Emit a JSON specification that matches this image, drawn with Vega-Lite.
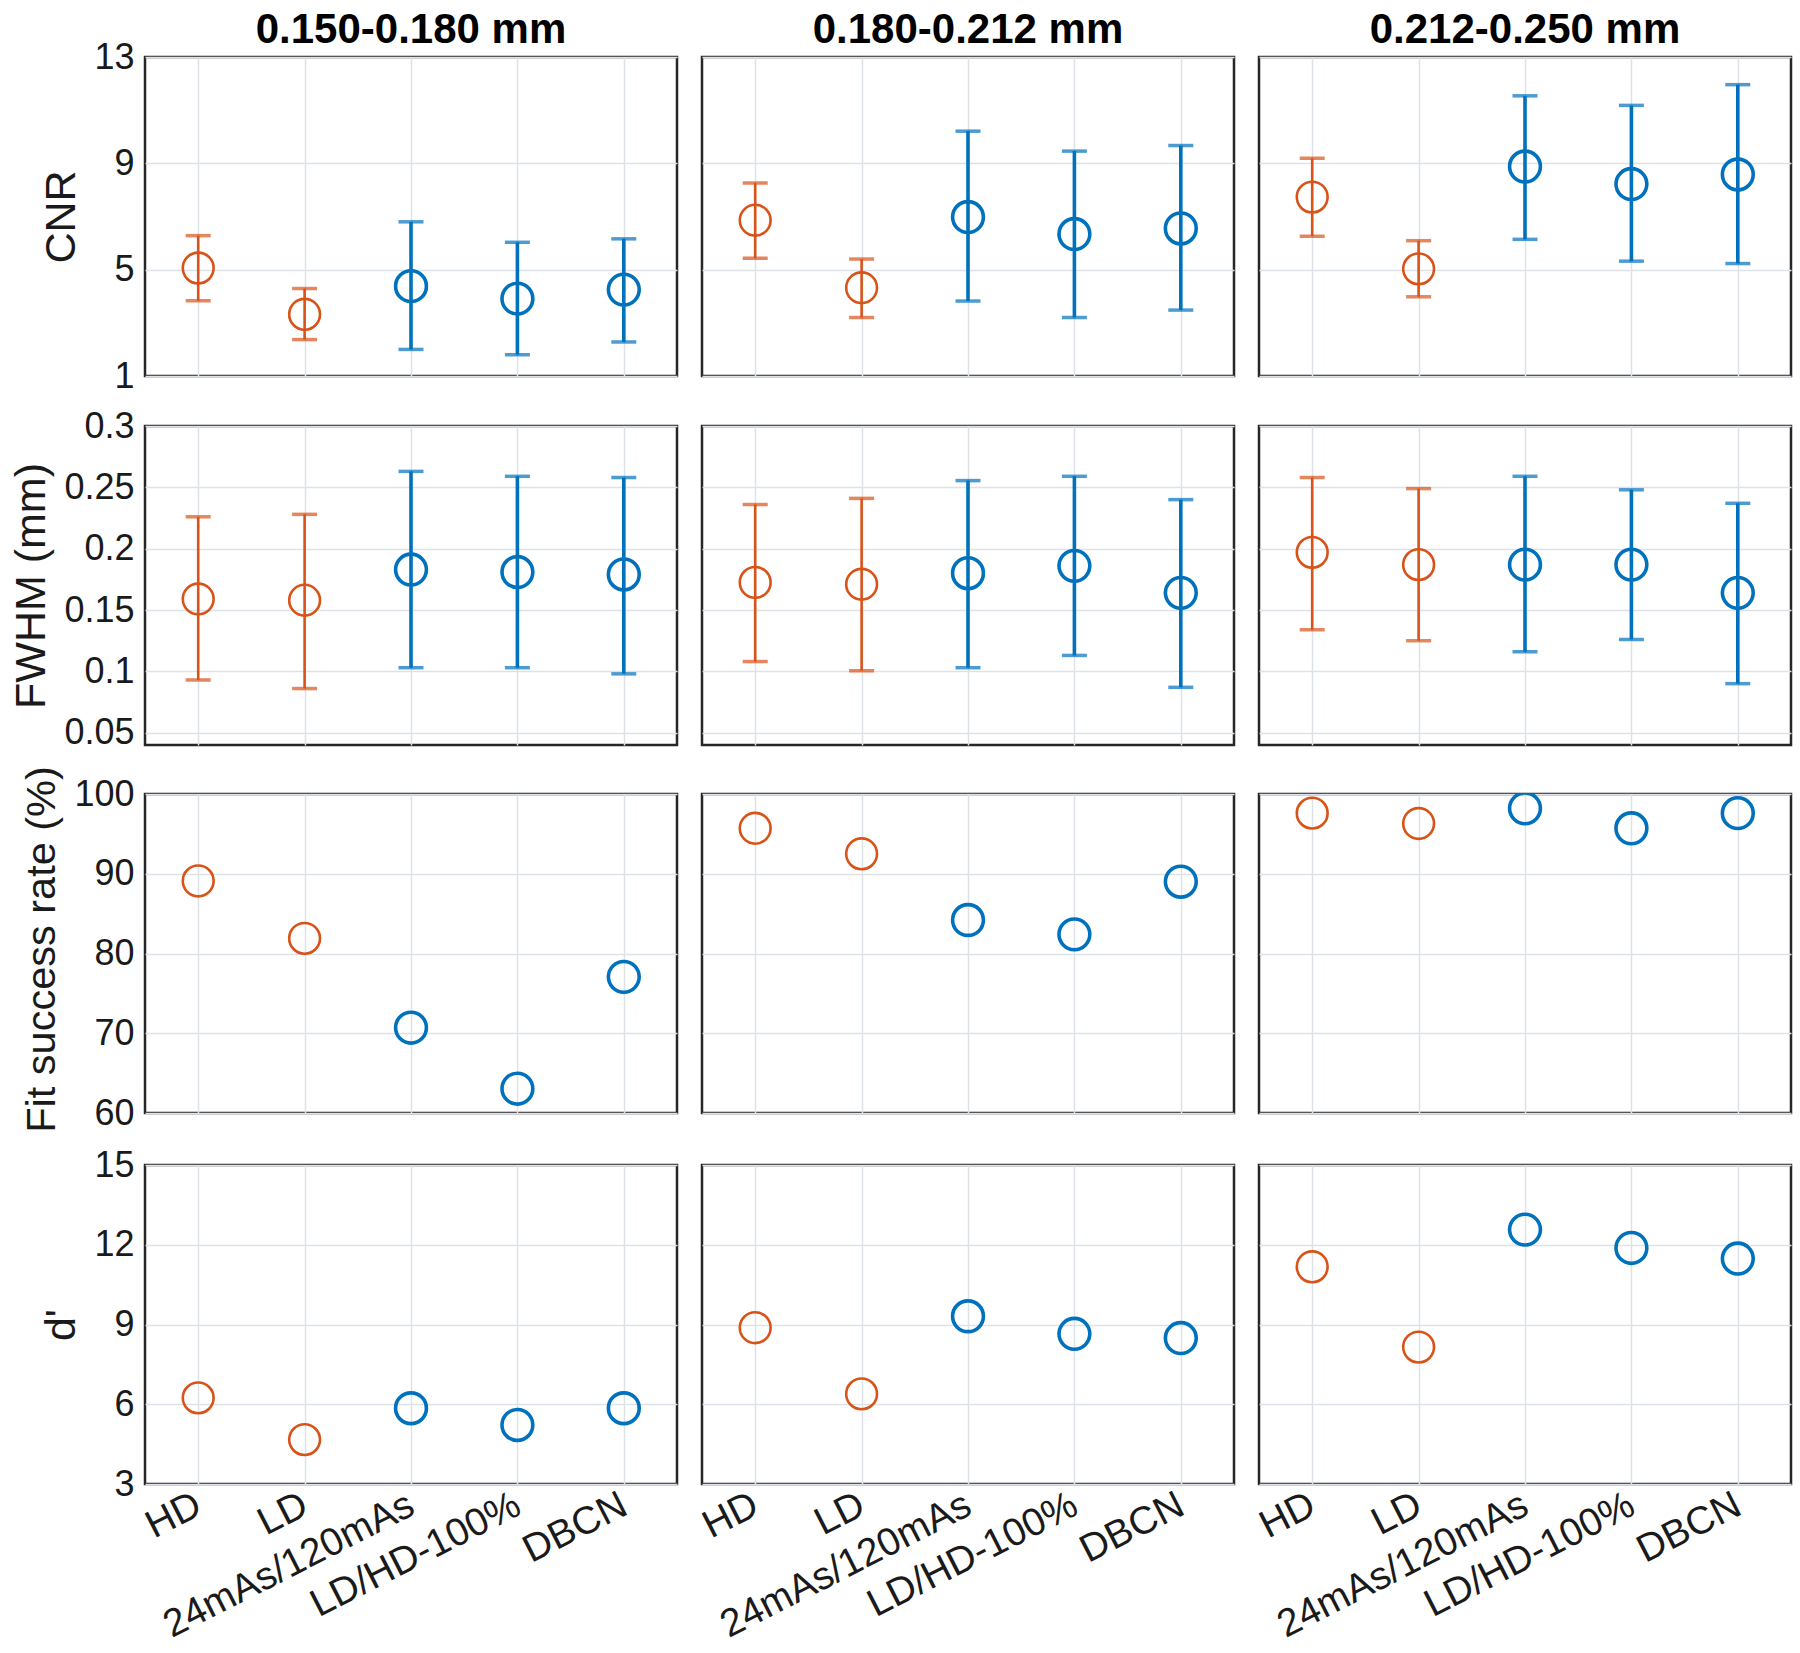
{
  "$schema": "https://vega.github.io/schema/vega-lite/v6.json",
  "background": "white",
  "padding": {"left": 10, "top": 9, "right": 4, "bottom": 2},
  "spacing": 14,
  "config": {
    "font": "Liberation Sans",
    "view": {"stroke": "#262626", "strokeWidth": 2.5},
    "axis": {
      "domain": false, "ticks": false, "grid": true,
      "gridColor": "#dde2e8", "gridWidth": 1.5,
      "labelColor": "#1a1a1a", "titleColor": "#1a1a1a",
      "titleFontWeight": "normal", "labelLimit": 0
    },
    "axisX": {"minExtent": 0},
    "axisY": {"labelFontSize": 36, "titleFontSize": 43, "labelPadding": 9, "titlePadding": 10},
    "header": {"labelColor": "#000000"}
  },
  "datasets": {
    "d": [
      {"metric": "CNR", "size": "0.150-0.180 mm", "method": "HD", "grp": "conv", "v": 5.06, "lo": 3.83, "hi": 6.28},
      {"metric": "CNR", "size": "0.150-0.180 mm", "method": "LD", "grp": "conv", "v": 3.32, "lo": 2.37, "hi": 4.29},
      {"metric": "CNR", "size": "0.150-0.180 mm", "method": "24mAs/120mAs", "grp": "dl", "v": 4.38, "lo": 2.0, "hi": 6.8},
      {"metric": "CNR", "size": "0.150-0.180 mm", "method": "LD/HD-100%", "grp": "dl", "v": 3.91, "lo": 1.8, "hi": 6.03},
      {"metric": "CNR", "size": "0.150-0.180 mm", "method": "DBCN", "grp": "dl", "v": 4.25, "lo": 2.28, "hi": 6.16},
      {"metric": "CNR", "size": "0.180-0.212 mm", "method": "HD", "grp": "conv", "v": 6.86, "lo": 5.43, "hi": 8.26},
      {"metric": "CNR", "size": "0.180-0.212 mm", "method": "LD", "grp": "conv", "v": 4.32, "lo": 3.2, "hi": 5.4},
      {"metric": "CNR", "size": "0.180-0.212 mm", "method": "24mAs/120mAs", "grp": "dl", "v": 6.98, "lo": 3.82, "hi": 10.21},
      {"metric": "CNR", "size": "0.180-0.212 mm", "method": "LD/HD-100%", "grp": "dl", "v": 6.34, "lo": 3.2, "hi": 9.46},
      {"metric": "CNR", "size": "0.180-0.212 mm", "method": "DBCN", "grp": "dl", "v": 6.55, "lo": 3.48, "hi": 9.67},
      {"metric": "CNR", "size": "0.212-0.250 mm", "method": "HD", "grp": "conv", "v": 7.73, "lo": 6.26, "hi": 9.19},
      {"metric": "CNR", "size": "0.212-0.250 mm", "method": "LD", "grp": "conv", "v": 5.03, "lo": 3.98, "hi": 6.09},
      {"metric": "CNR", "size": "0.212-0.250 mm", "method": "24mAs/120mAs", "grp": "dl", "v": 8.88, "lo": 6.14, "hi": 11.54},
      {"metric": "CNR", "size": "0.212-0.250 mm", "method": "LD/HD-100%", "grp": "dl", "v": 8.22, "lo": 5.32, "hi": 11.18},
      {"metric": "CNR", "size": "0.212-0.250 mm", "method": "DBCN", "grp": "dl", "v": 8.58, "lo": 5.23, "hi": 11.96},

      {"metric": "FWHM", "size": "0.150-0.180 mm", "method": "HD", "grp": "conv", "v": 0.159, "lo": 0.093, "hi": 0.226},
      {"metric": "FWHM", "size": "0.150-0.180 mm", "method": "LD", "grp": "conv", "v": 0.158, "lo": 0.086, "hi": 0.228},
      {"metric": "FWHM", "size": "0.150-0.180 mm", "method": "24mAs/120mAs", "grp": "dl", "v": 0.183, "lo": 0.103, "hi": 0.263},
      {"metric": "FWHM", "size": "0.150-0.180 mm", "method": "LD/HD-100%", "grp": "dl", "v": 0.181, "lo": 0.103, "hi": 0.259},
      {"metric": "FWHM", "size": "0.150-0.180 mm", "method": "DBCN", "grp": "dl", "v": 0.179, "lo": 0.098, "hi": 0.258},
      {"metric": "FWHM", "size": "0.180-0.212 mm", "method": "HD", "grp": "conv", "v": 0.1725, "lo": 0.108, "hi": 0.236},
      {"metric": "FWHM", "size": "0.180-0.212 mm", "method": "LD", "grp": "conv", "v": 0.171, "lo": 0.1005, "hi": 0.241},
      {"metric": "FWHM", "size": "0.180-0.212 mm", "method": "24mAs/120mAs", "grp": "dl", "v": 0.18, "lo": 0.103, "hi": 0.2555},
      {"metric": "FWHM", "size": "0.180-0.212 mm", "method": "LD/HD-100%", "grp": "dl", "v": 0.186, "lo": 0.113, "hi": 0.259},
      {"metric": "FWHM", "size": "0.180-0.212 mm", "method": "DBCN", "grp": "dl", "v": 0.164, "lo": 0.087, "hi": 0.24},
      {"metric": "FWHM", "size": "0.212-0.250 mm", "method": "HD", "grp": "conv", "v": 0.197, "lo": 0.134, "hi": 0.258},
      {"metric": "FWHM", "size": "0.212-0.250 mm", "method": "LD", "grp": "conv", "v": 0.187, "lo": 0.125, "hi": 0.249},
      {"metric": "FWHM", "size": "0.212-0.250 mm", "method": "24mAs/120mAs", "grp": "dl", "v": 0.187, "lo": 0.116, "hi": 0.259},
      {"metric": "FWHM", "size": "0.212-0.250 mm", "method": "LD/HD-100%", "grp": "dl", "v": 0.187, "lo": 0.126, "hi": 0.248},
      {"metric": "FWHM", "size": "0.212-0.250 mm", "method": "DBCN", "grp": "dl", "v": 0.164, "lo": 0.09, "hi": 0.237},

      {"metric": "Fit", "size": "0.150-0.180 mm", "method": "HD", "grp": "conv", "v": 89.1},
      {"metric": "Fit", "size": "0.150-0.180 mm", "method": "LD", "grp": "conv", "v": 81.9},
      {"metric": "Fit", "size": "0.150-0.180 mm", "method": "24mAs/120mAs", "grp": "dl", "v": 70.7},
      {"metric": "Fit", "size": "0.150-0.180 mm", "method": "LD/HD-100%", "grp": "dl", "v": 63.05},
      {"metric": "Fit", "size": "0.150-0.180 mm", "method": "DBCN", "grp": "dl", "v": 77.07},
      {"metric": "Fit", "size": "0.180-0.212 mm", "method": "HD", "grp": "conv", "v": 95.7},
      {"metric": "Fit", "size": "0.180-0.212 mm", "method": "LD", "grp": "conv", "v": 92.5},
      {"metric": "Fit", "size": "0.180-0.212 mm", "method": "24mAs/120mAs", "grp": "dl", "v": 84.2},
      {"metric": "Fit", "size": "0.180-0.212 mm", "method": "LD/HD-100%", "grp": "dl", "v": 82.4},
      {"metric": "Fit", "size": "0.180-0.212 mm", "method": "DBCN", "grp": "dl", "v": 89.0},
      {"metric": "Fit", "size": "0.212-0.250 mm", "method": "HD", "grp": "conv", "v": 97.6},
      {"metric": "Fit", "size": "0.212-0.250 mm", "method": "LD", "grp": "conv", "v": 96.3},
      {"metric": "Fit", "size": "0.212-0.250 mm", "method": "24mAs/120mAs", "grp": "dl", "v": 98.2},
      {"metric": "Fit", "size": "0.212-0.250 mm", "method": "LD/HD-100%", "grp": "dl", "v": 95.7},
      {"metric": "Fit", "size": "0.212-0.250 mm", "method": "DBCN", "grp": "dl", "v": 97.6},

      {"metric": "d", "size": "0.150-0.180 mm", "method": "HD", "grp": "conv", "v": 6.24},
      {"metric": "d", "size": "0.150-0.180 mm", "method": "LD", "grp": "conv", "v": 4.67},
      {"metric": "d", "size": "0.150-0.180 mm", "method": "24mAs/120mAs", "grp": "dl", "v": 5.85},
      {"metric": "d", "size": "0.150-0.180 mm", "method": "LD/HD-100%", "grp": "dl", "v": 5.22},
      {"metric": "d", "size": "0.150-0.180 mm", "method": "DBCN", "grp": "dl", "v": 5.85},
      {"metric": "d", "size": "0.180-0.212 mm", "method": "HD", "grp": "conv", "v": 8.88},
      {"metric": "d", "size": "0.180-0.212 mm", "method": "LD", "grp": "conv", "v": 6.39},
      {"metric": "d", "size": "0.180-0.212 mm", "method": "24mAs/120mAs", "grp": "dl", "v": 9.31},
      {"metric": "d", "size": "0.180-0.212 mm", "method": "LD/HD-100%", "grp": "dl", "v": 8.65},
      {"metric": "d", "size": "0.180-0.212 mm", "method": "DBCN", "grp": "dl", "v": 8.49},
      {"metric": "d", "size": "0.212-0.250 mm", "method": "HD", "grp": "conv", "v": 11.17},
      {"metric": "d", "size": "0.212-0.250 mm", "method": "LD", "grp": "conv", "v": 8.15},
      {"metric": "d", "size": "0.212-0.250 mm", "method": "24mAs/120mAs", "grp": "dl", "v": 12.57},
      {"metric": "d", "size": "0.212-0.250 mm", "method": "LD/HD-100%", "grp": "dl", "v": 11.88},
      {"metric": "d", "size": "0.212-0.250 mm", "method": "DBCN", "grp": "dl", "v": 11.48}
    ]
  },
  "vconcat": [
    {
      "data": {"name": "d"},
      "transform": [{"filter": "datum.metric == 'CNR'"}],
      "facet": {"column": {"field": "size", "type": "nominal", "title": null,
        "header": {"labelFontSize": 42, "labelFontWeight": "bold", "labelPadding": 3}}},
      "spacing": 21,
      "spec": {
        "width": 532, "height": 319,
        "encoding": {
          "x": {"field": "method", "type": "nominal", "sort": ["HD", "LD", "24mAs/120mAs", "LD/HD-100%", "DBCN"],
                "scale": {"type": "point", "padding": 0.5}, "axis": {"labels": false, "title": null}},
          "color": {"field": "grp", "type": "nominal", "scale": {"domain": ["conv", "dl"], "range": ["#D95319", "#0072BD"]}, "legend": null},
          "strokeWidth": {"field": "grp", "type": "nominal", "scale": {"domain": ["conv", "dl"], "range": [2.6, 3.6]}, "legend": null}
        },
        "layer": [
          {"mark": {"type": "rule"},
           "encoding": {"y": {"field": "lo", "type": "quantitative", "scale": {"domain": [1, 13]}, "axis": {"values": [1, 5, 9, 13], "title": "CNR"}}, "y2": {"field": "hi"}}},
          {"mark": {"type": "tick", "thickness": 3.5, "size": 25},
           "encoding": {"y": {"field": "lo", "type": "quantitative"}, "strokeWidth": {"value": 0}}},
          {"mark": {"type": "tick", "thickness": 3.5, "size": 25},
           "encoding": {"y": {"field": "hi", "type": "quantitative"}, "strokeWidth": {"value": 0}}},
          {"mark": {"type": "point", "shape": "circle", "filled": false, "size": 950, "opacity": 1},
           "encoding": {"y": {"field": "v", "type": "quantitative"}}}
        ]
      }
    },
    {
      "data": {"name": "d"},
      "transform": [{"filter": "datum.metric == 'FWHM'"}],
      "facet": {"column": {"field": "size", "type": "nominal", "title": null, "header": {"labels": false}}},
      "spacing": 21,
      "spec": {
        "width": 532, "height": 319,
        "encoding": {
          "x": {"field": "method", "type": "nominal", "sort": ["HD", "LD", "24mAs/120mAs", "LD/HD-100%", "DBCN"],
                "scale": {"type": "point", "padding": 0.5}, "axis": {"labels": false, "title": null}},
          "color": {"field": "grp", "type": "nominal", "scale": {"domain": ["conv", "dl"], "range": ["#D95319", "#0072BD"]}, "legend": null},
          "strokeWidth": {"field": "grp", "type": "nominal", "scale": {"domain": ["conv", "dl"], "range": [2.6, 3.6]}, "legend": null}
        },
        "layer": [
          {"mark": {"type": "rule"},
           "encoding": {"y": {"field": "lo", "type": "quantitative", "scale": {"domain": [0.05, 0.3]}, "axis": {"values": [0.05, 0.1, 0.15, 0.2, 0.25, 0.3], "format": "~g", "title": "FWHM (mm)"}}, "y2": {"field": "hi"}}},
          {"mark": {"type": "tick", "thickness": 3.5, "size": 25},
           "encoding": {"y": {"field": "lo", "type": "quantitative"}, "strokeWidth": {"value": 0}}},
          {"mark": {"type": "tick", "thickness": 3.5, "size": 25},
           "encoding": {"y": {"field": "hi", "type": "quantitative"}, "strokeWidth": {"value": 0}}},
          {"mark": {"type": "point", "shape": "circle", "filled": false, "size": 950, "opacity": 1},
           "encoding": {"y": {"field": "v", "type": "quantitative"}}}
        ]
      }
    },
    {
      "data": {"name": "d"},
      "transform": [{"filter": "datum.metric == 'Fit'"}],
      "facet": {"column": {"field": "size", "type": "nominal", "title": null, "header": {"labels": false}}},
      "spacing": 21,
      "spec": {
        "width": 532, "height": 319,
        "mark": {"type": "point", "shape": "circle", "filled": false, "size": 950, "opacity": 1, "clip": true},
        "encoding": {
          "x": {"field": "method", "type": "nominal", "sort": ["HD", "LD", "24mAs/120mAs", "LD/HD-100%", "DBCN"],
                "scale": {"type": "point", "padding": 0.5}, "axis": {"labels": false, "title": null}},
          "y": {"field": "v", "type": "quantitative", "scale": {"domain": [60, 100]}, "axis": {"values": [60, 70, 80, 90, 100], "title": "Fit success rate (%)", "titleFontSize": 41.5, "titleY": 155}},
          "color": {"field": "grp", "type": "nominal", "scale": {"domain": ["conv", "dl"], "range": ["#D95319", "#0072BD"]}, "legend": null},
          "strokeWidth": {"field": "grp", "type": "nominal", "scale": {"domain": ["conv", "dl"], "range": [2.6, 3.6]}, "legend": null}
        }
      }
    },
    {
      "data": {"name": "d"},
      "transform": [{"filter": "datum.metric == 'd'"}],
      "facet": {"column": {"field": "size", "type": "nominal", "title": null, "header": {"labels": false}}},
      "spacing": 21,
      "spec": {
        "width": 532, "height": 319,
        "mark": {"type": "point", "shape": "circle", "filled": false, "size": 950, "opacity": 1},
        "encoding": {
          "x": {"field": "method", "type": "nominal", "sort": ["HD", "LD", "24mAs/120mAs", "LD/HD-100%", "DBCN"],
                "scale": {"type": "point", "padding": 0.5},
                "axis": {"title": null, "labelFontSize": 39, "labelAngle": -27, "labelAlign": "right", "labelBaseline": "middle", "labelPadding": 16}},
          "y": {"field": "v", "type": "quantitative", "scale": {"domain": [3, 15]}, "axis": {"values": [3, 6, 9, 12, 15], "title": "d'"}},
          "color": {"field": "grp", "type": "nominal", "scale": {"domain": ["conv", "dl"], "range": ["#D95319", "#0072BD"]}, "legend": null},
          "strokeWidth": {"field": "grp", "type": "nominal", "scale": {"domain": ["conv", "dl"], "range": [2.6, 3.6]}, "legend": null}
        }
      }
    }
  ]
}
